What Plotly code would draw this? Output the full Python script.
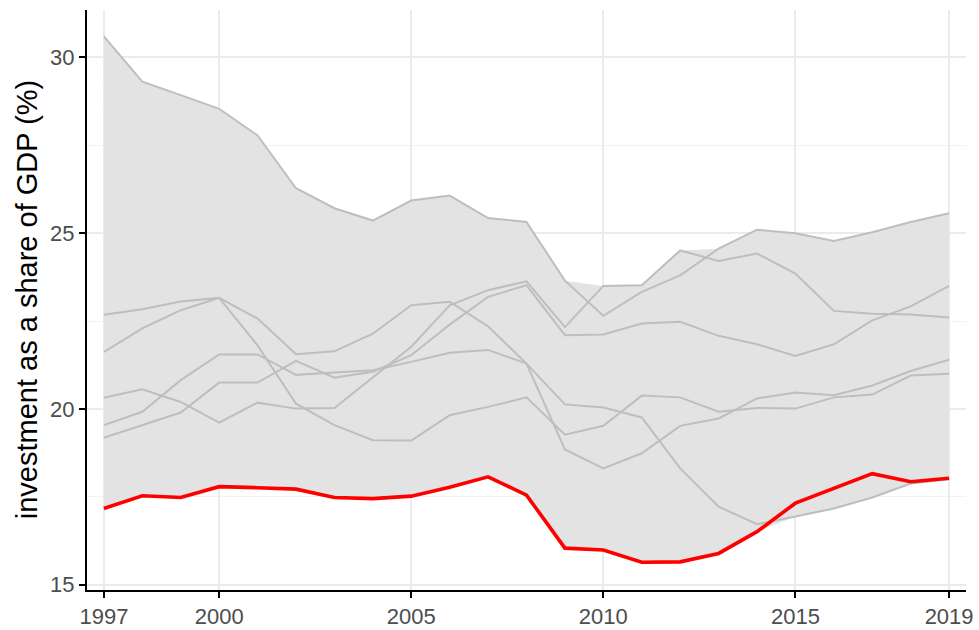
import plotly.graph_objects as go

years = list(range(1997, 2020))

# highlighted country (red)
red_series = [17.17, 17.53, 17.48, 17.79, 17.76, 17.72, 17.48, 17.45, 17.52, 17.77, 18.07, 17.55,
              16.04, 15.99, 15.64, 15.65, 15.89, 16.51, 17.32, 17.74, 18.16, 17.93, 18.03]

# other countries (grey)
grey_a = [30.6, 29.31, 28.93, 28.54, 27.78, 26.28, 25.71, 25.36, 25.93, 26.07, 25.43, 25.32,
          23.65, 22.65, 23.33, 23.8, 24.56, 25.1, 25.0, 24.78, 25.03, 25.32, 25.57]
grey_b = [22.68, 22.84, 23.06, 23.16, 22.57, 21.56, 21.64, 22.14, 22.95, 23.05, 22.35, 21.29,
          20.13, 20.04, 19.76, 18.31, 17.22, 16.72, 16.94, 17.17, 17.48, 17.88, 18.0]
grey_c = [21.62, 22.29, 22.81, 23.16, 21.81, 20.15, 19.54, 19.11, 19.1, 19.82, 20.06, 20.33,
          19.27, 19.52, 20.38, 20.33, 19.92, 20.03, 20.01, 20.33, 20.41, 20.95, 21.0]
grey_d = [20.32, 20.56, 20.2, 19.61, 20.18, 20.01, 20.03, 20.91, 21.77, 22.95, 23.38, 23.63,
          22.33, 23.5, 23.52, 24.51, 24.21, 24.42, 23.85, 22.79, 22.71, 22.69, 22.6]
grey_e = [19.54, 19.92, 20.82, 21.55, 21.55, 20.97, 21.04, 21.1, 21.34, 21.6, 21.68, 21.29,
          18.85, 18.31, 18.74, 19.52, 19.73, 20.3, 20.47, 20.39, 20.67, 21.08, 21.4]
grey_f = [19.18, 19.54, 19.9, 20.75, 20.75, 21.37, 20.89, 21.06, 21.53, 22.4, 23.19, 23.52,
          22.1, 22.12, 22.43, 22.48, 22.08, 21.84, 21.51, 21.84, 22.52, 22.92, 23.5]

grey_series = [grey_a, grey_b, grey_c, grey_d, grey_e, grey_f]
all_series = grey_series + [red_series]

ribbon_max = [max(v) for v in zip(*all_series)]
ribbon_min = [min(v) for v in zip(*all_series)]

x_ticks = [1997, 2000, 2005, 2010, 2015, 2019]
y_ticks = [15, 20, 25, 30]
y_minor = [17.5, 22.5, 27.5]

fig = go.Figure()

fig.add_trace(go.Scatter(x=years, y=ribbon_max, mode="lines", line=dict(width=0),
                         hoverinfo="skip", showlegend=False))
fig.add_trace(go.Scatter(x=years, y=ribbon_min, mode="lines", line=dict(width=0),
                         fill="tonexty", fillcolor="#E3E3E3",
                         hoverinfo="skip", showlegend=False))

for s in grey_series:
    fig.add_trace(go.Scatter(x=years, y=s, mode="lines",
                             line=dict(color="#BEBEBE", width=2), showlegend=False))

fig.add_trace(go.Scatter(x=years, y=red_series, mode="lines",
                         line=dict(color="#FF0000", width=3.6), showlegend=False))

fig.update_layout(
    width=979, height=630,
    margin=dict(l=87, r=13, t=10, b=40),
    paper_bgcolor="white", plot_bgcolor="white",
    font=dict(family="Liberation Sans, Arial, sans-serif"),
    showlegend=False,
    annotations=[dict(
        text="investment as a share of GDP (%)",
        xref="paper", yref="paper", x=-0.068, y=0.5,
        xanchor="center", yanchor="middle", textangle=-90, showarrow=False,
        font=dict(size=29, color="black"),
    )],
)

fig.update_xaxes(
    range=[1996.56, 2019.44],
    tickvals=x_ticks, ticktext=[str(t) for t in x_ticks],
    showgrid=True, gridcolor="#EBEBEB", gridwidth=2,
    showline=True, linecolor="black", linewidth=2,
    ticks="outside", ticklen=6, tickwidth=1.5, tickcolor="black",
    tickfont=dict(size=22, color="#4D4D4D"),
    zeroline=False, automargin=False,
)
fig.update_yaxes(
    range=[14.85, 31.35],
    tickvals=y_ticks,
    showgrid=True, gridcolor="#EBEBEB", gridwidth=2,
    minor=dict(tickvals=y_minor, showgrid=True, gridcolor="#F2F2F2", gridwidth=1, ticks=""),
    showline=True, linecolor="black", linewidth=2,
    ticks="outside", ticklen=6, tickwidth=1.5, tickcolor="black",
    tickfont=dict(size=22, color="#4D4D4D"),
    zeroline=False, automargin=False,
)

fig.write_html(
    "out.html",
    config={"displayModeBar": False},
    post_script="document.body.style.margin='0';document.body.style.overflow='hidden';",
)
